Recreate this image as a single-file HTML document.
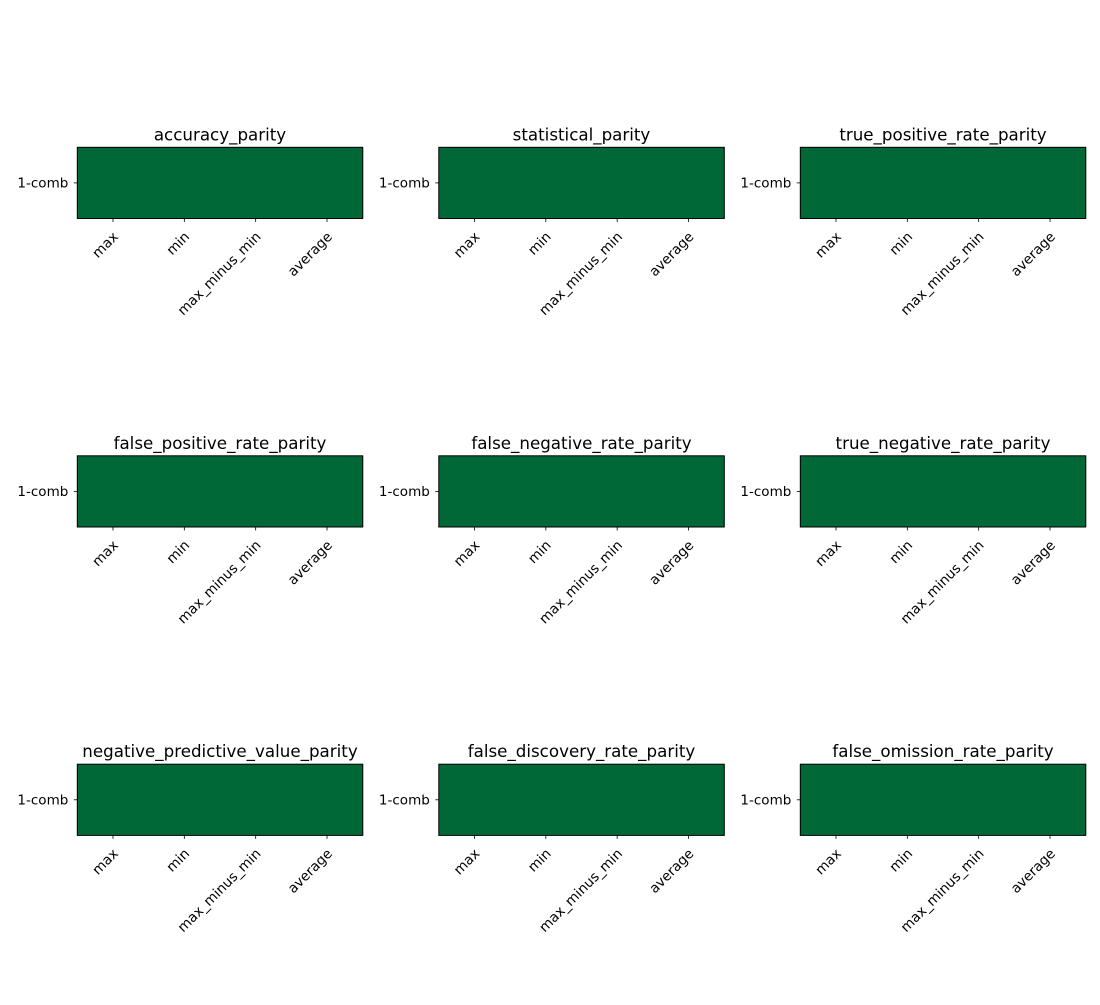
<!DOCTYPE html>
<html><head><meta charset="utf-8"><style>
html,body{margin:0;padding:0;background:#fff;}
svg text{font-family:"DejaVu Sans","Liberation Sans",sans-serif;fill:#000;}
</style></head><body>
<svg id="chart" width="1100" height="1000" xmlns="http://www.w3.org/2000/svg"></svg>
<script>
const metrics = ["accuracy_parity","statistical_parity","true_positive_rate_parity","false_positive_rate_parity","false_negative_rate_parity","true_negative_rate_parity","negative_predictive_value_parity","false_discovery_rate_parity","false_omission_rate_parity"];
const columns = ["max","min","max_minus_min","average"];
const rows = ["1-comb"];
const values = [
  [[1,1,1,1]],[[1,1,1,1]],[[1,1,1,1]],
  [[1,1,1,1]],[[1,1,1,1]],[[1,1,1,1]],
  [[1,1,1,1]],[[1,1,1,1]],[[1,1,1,1]]
];
const NS="http://www.w3.org/2000/svg";
const svg=document.getElementById('chart');
function mk(t,a,p){const e=document.createElementNS(NS,t);for(const k in a)e.setAttribute(k,a[k]);(p||svg).appendChild(e);return e;}
function color(v){
  const stops=[[0,[165,0,38]],[0.5,[255,255,191]],[1,[0,104,55]]];
  v=Math.max(0,Math.min(1,v));
  for(let i=0;i<stops.length-1;i++){const [a,ca]=stops[i],[b,cb]=stops[i+1];
    if(v<=b){const t=(v-a)/(b-a);return 'rgb('+ca.map((c,j)=>Math.round(c+(cb[j]-c)*t)).join(',')+')';}}
}
const colX=[77.3,438.8,800.3], rowY=[147.3,455.8,764.2], W=285.4, H=71.2;
metrics.forEach((m,i)=>{
  const x0=colX[i%3], y0=rowY[Math.floor(i/3)];
  const g=mk('g',{});
  
  
  const xs=c=>x0+(c+0.5)*W/columns.length;
  const cw=W/columns.length, rh=H/rows.length;
  values[i].forEach((r,ri)=>r.forEach((v,ci)=>{
    const c=mk('rect',{x:x0+ci*cw,y:y0+ri*rh,width:cw+0.5,height:rh,fill:color(v)},g);
    
    
  }));
  const fr=mk('rect',{x:x0,y:y0,width:W,height:H,fill:'none',stroke:'#000','stroke-width':1},g);
  
  
  const t=mk('text',{x:x0+W/2,y:y0-7,'text-anchor':'middle','font-size':'16.7px'},g);
  t.textContent=m;
  
  
  rows.forEach((r,ri)=>{
    const y=y0+(ri+0.5)*rh;
    mk('line',{x1:x0-3.5,x2:x0,y1:y,y2:y,stroke:'#000','stroke-width':0.8},g);
    const l=mk('text',{x:x0-9,y:y+4.5,'text-anchor':'end','font-size':'13.5px'},g);
    l.textContent=r;
    
    
  });
  columns.forEach((c,ci)=>{
    const x=xs(ci), yb=y0+H;
    mk('line',{x1:x,x2:x,y1:yb,y2:yb+3.5,stroke:'#000','stroke-width':0.8},g);
    const ax=x+6, ay=yb+19;
    const l=mk('text',{x:ax,y:ay,'text-anchor':'end','font-size':'13.7px',transform:'rotate(-45 '+ax+' '+ay+')'},g);
    l.textContent=c;
    
    
  });
});
</script>
</body></html>
